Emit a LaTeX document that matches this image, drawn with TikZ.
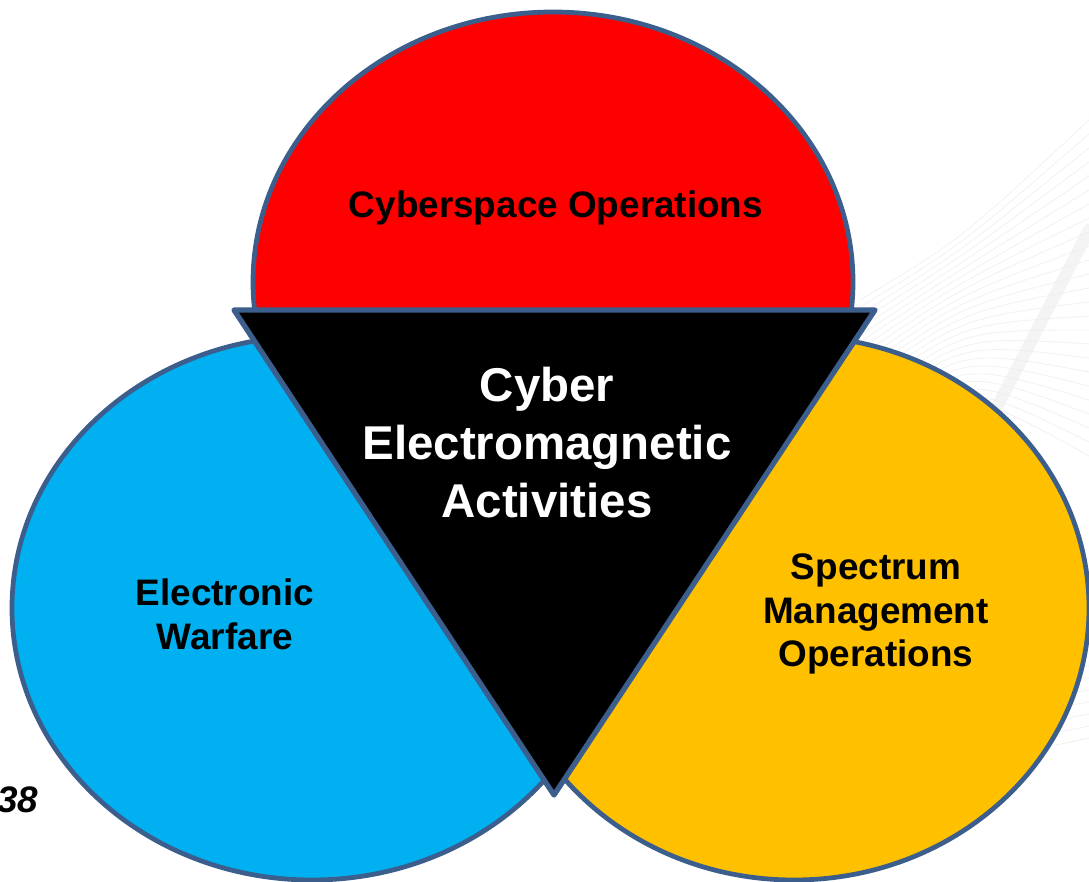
\documentclass[tikz,border=0pt]{standalone}
\usepackage{fontspec}
\setmainfont{Liberation Sans}

\definecolor{borde}{RGB}{59,94,140}
\definecolor{azul}{RGB}{0,176,240}
\definecolor{naranja}{RGB}{255,192,0}
\definecolor{rojo}{RGB}{255,0,0}

\tikzset{
  area/.style={draw=borde, line width=2.7pt},
  etiqueta/.style={font=\bfseries\fontsize{21}{25}\selectfont, align=center, text=black},
  surco/.style={gray!10, line width=0.5pt}
}

\begin{document}
\begin{tikzpicture}[x=0.02cm, y=-0.02cm]
\useasboundingbox (0,0) rectangle (1089,882);

% Fondo
\foreach \k in {0,...,24}
  \draw[surco] (860,300+7*\k) .. controls (960,240+6*\k) .. (1089,120+14*\k);
\draw[gray!14, line width=7pt, line cap=round, opacity=0.6] (985,430) -- (1089,230);
\foreach \k in {0,...,9}
  \draw[surco] (960,640+14*\k) -- (1089,630+12*\k);

% Conjuntos de abajo
\draw[area, fill=azul] (312,608) ellipse [x radius=300, y radius=272];
\draw[area, fill=naranja] (794,608) ellipse [x radius=295, y radius=272];

% Conjunto de arriba (cortado por el triangulo)
\begin{scope}
  \clip (0,0) rectangle (1089,310);
  \draw[area, fill=rojo] (553,282) ellipse [x radius=300, y radius=270];
\end{scope}

% Triangulo central
\draw[area, fill=black, line join=round, line width=3pt] (234,310) -- (875,310) -- (554,795) -- cycle;

% Etiquetas
\node[etiqueta] (ciber) at (556,208) {Cyberspace Operations};
\node[etiqueta, text=white, font=\bfseries\fontsize{27}{33}\selectfont] (cema) at (547,443) {Cyber\\Electromagnetic\\Activities};
\node[etiqueta] (guerra) at (225,614) {Electronic\\Warfare};
\node[etiqueta] (espectro) at (876,614) {Spectrum\\Management\\Operations};
\node[font=\bfseries\itshape\fontsize{21}{25}\selectfont, anchor=west, inner sep=0pt] (pagina) at (-3,800) {38};
\end{tikzpicture}
\end{document}
